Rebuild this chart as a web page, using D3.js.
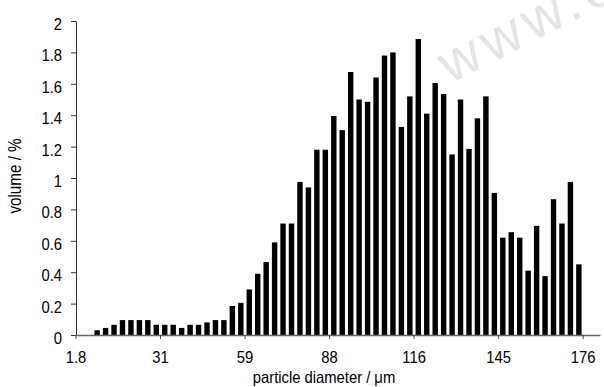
<!DOCTYPE html>
<html>
<head>
<meta charset="utf-8">
<script src="https://cdn.jsdelivr.net/npm/d3@7"></script>
<style>
  body { margin: 0; background: #fff; }
  svg { display: block; font-family: "Liberation Sans", Arial, sans-serif; }
</style>
</head>
<body>
<div id="chart"></div>
<script>
// volume (%) per particle size bin, bins 0..61
const volume = [
  0, 0, 0.03, 0.045, 0.065, 0.095, 0.095, 0.095, 0.095, 0.065,
  0.065, 0.065, 0.045, 0.065, 0.065, 0.08, 0.095, 0.095, 0.185, 0.205,
  0.29, 0.39, 0.465, 0.59, 0.71, 0.71, 0.975, 0.94, 1.18, 1.18,
  1.395, 1.305, 1.675, 1.5, 1.485, 1.64, 1.78, 1.8, 1.325, 1.52,
  1.885, 1.41, 1.605, 1.535, 1.15, 1.5, 1.185, 1.38, 1.52, 0.905,
  0.62, 0.655, 0.62, 0.41, 0.695, 0.375, 0.865, 0.71, 0.975, 0.45,
  0, 0
];
const bins = volume.map((v, i) => i);
const xTickBins = [0, 10, 20, 30, 40, 50, 60];
const xTickLabels = ["1.8", "31", "59", "88", "116", "145", "176"];
const yTicks = [0, 0.2, 0.4, 0.6, 0.8, 1, 1.2, 1.4, 1.6, 1.8, 2];

const width = 604, height = 387;
const margin = {top: 21, right: 4, bottom: 52, left: 76};
const w = width - margin.left - margin.right;
const h = height - margin.top - margin.bottom;
const squeeze = 0.87; // narrow look of the original font

const root = d3.select("#chart").append("svg")
  .attr("width", width)
  .attr("height", height);

// watermark
root.append("text")
  .attr("transform", "translate(450,84) rotate(-27)")
  .attr("font-size", 56)
  .attr("letter-spacing", 6)
  .attr("fill", "#e4e4e4")
  .text("www.e");

const svg = root.append("g")
  .attr("transform", `translate(${margin.left},${margin.top})`);

const x = d3.scaleBand()
  .domain(bins)
  .range([0, w])
  .paddingInner(0.36)
  .paddingOuter(0.18);

const y = d3.scaleLinear()
  .domain([0, 2])
  .range([h, 0]);

// bars
svg.selectAll("rect.bar")
  .data(volume.map((v, i) => ({bin: i, value: v})).filter(d => d.value > 0))
  .enter()
  .append("rect")
  .attr("class", "bar")
  .attr("x", d => x(d.bin))
  .attr("y", d => y(d.value))
  .attr("width", x.bandwidth())
  .attr("height", d => h - y(d.value))
  .attr("fill", "#000");

// X axis, ticks sit on bin boundaries
const xAxis = svg.append("g")
  .attr("transform", `translate(0,${h})`)
  .call(d3.axisBottom(x)
    .tickValues(xTickBins)
    .tickSize(4)
    .tickSizeOuter(0)
    .tickPadding(12)
    .tickFormat(d => xTickLabels[xTickBins.indexOf(d)]));
xAxis.selectAll(".tick")
  .attr("transform", d => `translate(${x(d) + x.bandwidth() / 2 - x.step() / 2},0)`);
xAxis.select(".domain").attr("stroke", "#666").attr("stroke-width", 1.3);
xAxis.selectAll(".tick line").attr("stroke", "#444");
xAxis.selectAll("text")
  .attr("font-size", 17)
  .attr("fill", "#000")
  .attr("transform", `scale(${squeeze},1)`);

// Y axis
const yAxis = svg.append("g")
  .call(d3.axisLeft(y)
    .tickValues(yTicks)
    .tickSize(5)
    .tickSizeOuter(0)
    .tickPadding(8)
    .tickFormat(d3.format("~g")));
yAxis.select(".domain").attr("stroke", "#333");
yAxis.selectAll(".tick line").attr("stroke", "#333");
yAxis.selectAll("text")
  .attr("font-size", 17)
  .attr("dy", "0.5em")
  .attr("fill", "#000")
  .attr("x", -14 / squeeze)
  .attr("transform", `scale(${squeeze},1)`);

// axis titles
svg.append("text")
  .attr("transform", `translate(${324 - margin.left},${h + 48}) scale(${squeeze},1)`)
  .attr("text-anchor", "middle")
  .attr("font-size", 17)
  .text("particle diameter / \u03bcm");

svg.append("text")
  .attr("transform", `translate(${15 - margin.left},${h / 2 - 2}) rotate(-90) scale(${squeeze},1)`)
  .attr("text-anchor", "middle")
  .attr("dy", "0.35em")
  .attr("font-size", 17.5)
  .text("volume / %");
</script>
</body>
</html>
